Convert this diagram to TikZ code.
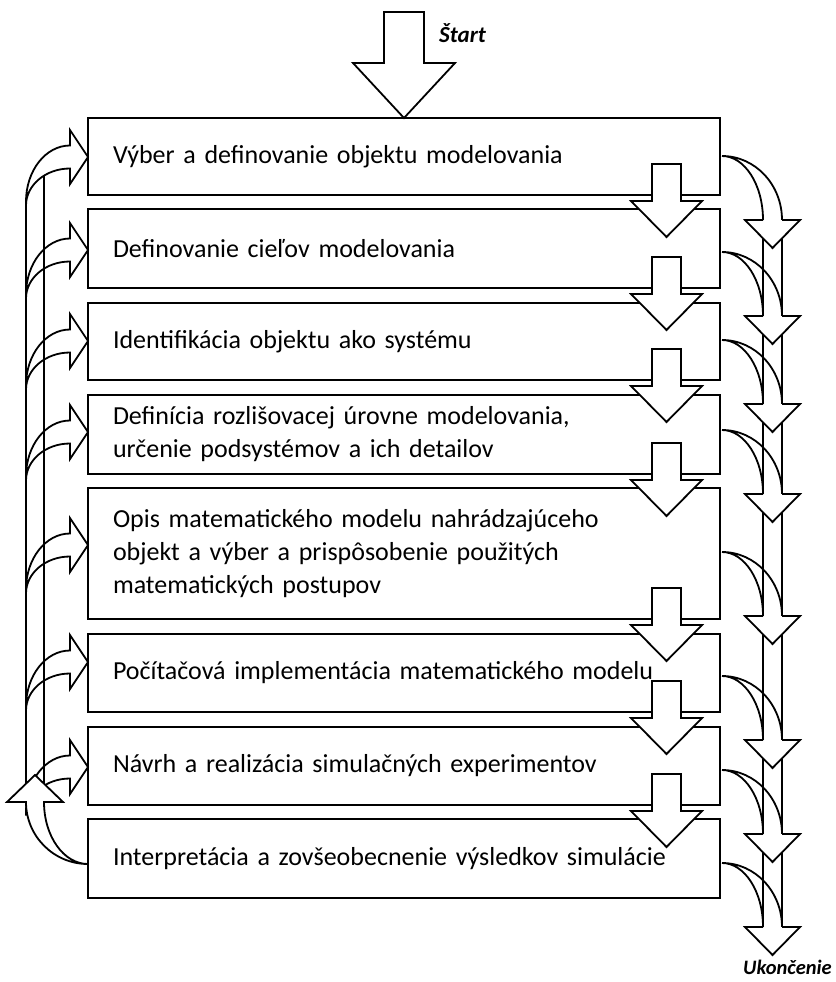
\documentclass[tikz,border=0pt]{standalone}
\usepackage{fontspec}
\setmainfont{Carlito}
\usetikzlibrary{calc}
\tikzset{
  box/.style={draw, line width=2.2pt, outer sep=0pt, anchor=north west, minimum width=632pt,
    inner xsep=25pt, text width=582pt, align=left, font=\fontsize{26}{33}\selectfont},
  blk/.style={draw, line width=1.8pt, fill=white, line join=miter},
  outl/.style={draw, line width=1.8pt},
  lbl/.style={font=\bfseries\itshape, inner sep=0pt},
}
\newcommand\dnarrow[1]{%
  \begin{scope}[shift={(#1.south east)}]
    \draw[blk] (-68,-31) -- (-39,-31) -- (-39,6) -- (-18,6) -- (-53.5,42) -- (-89,6) -- (-68,6) -- cycle;
  \end{scope}}
\newcommand\rarrow[3]{%
  \begin{scope}[shift={($(#1.east)+(2,#2)$)}]
    \draw[outl] (41,64) arc[start angle=0,end angle=-90,x radius=41,y radius=64]
      arc[start angle=-90,end angle=0,x radius=60,y radius=64];
    \coordinate (rl#3) at (41,64);
    \coordinate (rr#3) at (60,64);
  \end{scope}}
\newcommand\rhead[1]{%
  \filldraw[blk] (rl#1) -- ++(-18,0) -- ++(27.5,28) -- ++(27.5,-28) -- (rr#1);}
\newcommand\larrow[3]{%
  \begin{scope}[shift={($(#1.west)+(0,#2)$)}]
    \draw[outl] (-18,-11.5) arc[start angle=-90,end angle=-180,x radius=44,y radius=56]
      -- (-62,48.5) arc[start angle=180,end angle=270,x radius=44,y radius=37]
      -- (-18,27) -- (0,0) -- (-18,-27) -- cycle;
    \coordinate (la#3) at (-62,46);
    \coordinate (lb#3) at (-44,18.6);
  \end{scope}}
\begin{document}
\begin{tikzpicture}[x=1pt,y=-1pt]
\useasboundingbox (0,0) rectangle (835,982);
\node[box, minimum height=77pt] (b1) at (88,118) {Výber a definovanie objektu modelovania};
\node[box, minimum height=79pt] (b2) at (88,209) {Definovanie cieľov modelovania};
\node[box, minimum height=77pt] (b3) at (88,303) {Identifikácia objektu ako systému};
\node[box, minimum height=79pt] (b4) at (88,395) {Definícia rozlišovacej úrovne modelovania,\\ určenie podsystémov a ich detailov};
\node[box, minimum height=131pt] (b5) at (88,488) {Opis matematického modelu nahrádzajúceho\\ objekt a výber a prispôsobenie použitých\\ matematických postupov};
\node[box, minimum height=78pt] (b6) at (88,634) {Počítačová implementácia matematického modelu};
\node[box, minimum height=78pt] (b7) at (88,727) {Návrh a realizácia simulačných experimentov};
\node[box, minimum height=79pt] (b8) at (88,819) {Interpretácia a zovšeobecnenie výsledkov simulácie};
% start arrow
\begin{scope}[shift={(b1.north)}]
  \draw[blk] (-20,-106) -- (20,-106) -- (20,-55) -- (51,-55) -- (0,0) -- (-51,-55) -- (-20,-55) -- cycle;
\end{scope}
\node[lbl, font=\fontsize{23}{23}\selectfont\bfseries\itshape, anchor=base west] (st) at (439,43) {Štart};
% down arrows
\dnarrow{b1}\dnarrow{b2}\dnarrow{b3}\dnarrow{b4}\dnarrow{b5}\dnarrow{b6}\dnarrow{b7}
% right exit arrows
\rarrow{b1}{-0.5}{1}\rarrow{b2}{3.5}{2}\rarrow{b3}{-1.5}{3}\rarrow{b4}{-4.5}{4}
\rarrow{b5}{-1.5}{5}\rarrow{b6}{3}{6}\rarrow{b7}{4}{7}\rarrow{b8}{4.5}{8}
\draw[outl] (rl1) -- (rl8);
\draw[outl] (rr1) -- (rr8);
\rhead{1}\rhead{2}\rhead{3}\rhead{4}\rhead{5}\rhead{6}\rhead{7}\rhead{8}
\node[lbl, font=\fontsize{20.5}{20.5}\selectfont\bfseries\itshape, anchor=base west] (uk) at (743,974) {Ukončenie};
% left feedback arrows
\larrow{b1}{0.5}{1}\larrow{b2}{1.5}{2}\larrow{b3}{-0.5}{3}\larrow{b4}{-2.5}{4}
\larrow{b5}{-8.5}{5}\larrow{b6}{-11}{6}\larrow{b7}{1}{7}
\begin{scope}[shift={($(b8.west)+(0,5.5)$)}]
  \coordinate (lend26) at (-62,-62);
  \coordinate (lend44) at (-44,-62);
\end{scope}
\draw[outl] (la1) -- (lend26);
\draw[outl] (lb1) -- (lend44);
\begin{scope}[shift={($(b8.west)+(0,5.5)$)}]
  \draw[blk] (0,0) arc[start angle=90,end angle=180,x radius=62,y radius=62]
    -- (-81,-62) -- (-53,-89) -- (-25,-62) -- (-44,-62)
    arc[start angle=180,end angle=90,x radius=44,y radius=62] -- cycle;
\end{scope}
\end{tikzpicture}
\end{document}
